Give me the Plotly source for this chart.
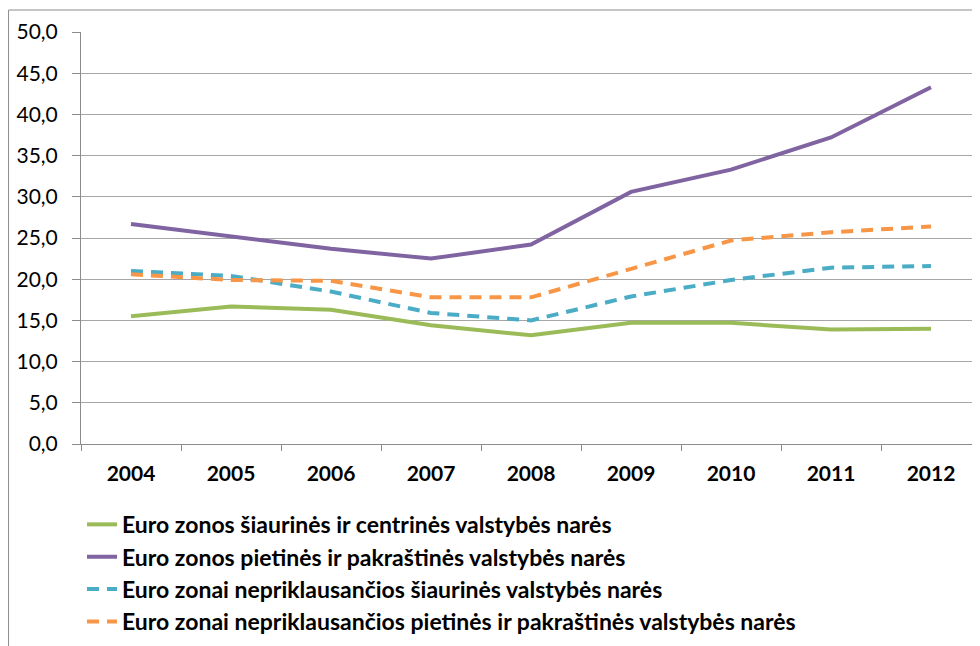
import plotly.graph_objects as go

# Metai
years = ["2004", "2005", "2006", "2007", "2008", "2009", "2010", "2011", "2012"]

# Serijos (nuskaityta nuo paveikslo)
euro_north = [15.5, 16.7, 16.3, 14.4, 13.2, 14.7, 14.7, 13.9, 14.0]
euro_south = [26.7, 25.2, 23.7, 22.5, 24.2, 30.6, 33.3, 37.2, 43.3]
non_euro_north = [21.0, 20.4, 18.5, 15.9, 15.0, 17.9, 19.9, 21.4, 21.6]
non_euro_south = [20.6, 19.9, 19.8, 17.8, 17.8, 21.2, 24.7, 25.7, 26.4]

names = [
    "Euro zonos šiaurinės ir centrinės valstybės narės",
    "Euro zonos pietinės ir pakraštinės valstybės narės",
    "Euro zonai nepriklausančios šiaurinės valstybės narės",
    "Euro zonai nepriklausančios pietinės ir pakraštinės valstybės narės",
]

y_ticks = [0, 5, 10, 15, 20, 25, 30, 35, 40, 45, 50]
y_tick_labels = ["0,0", "5,0", "10,0", "15,0", "20,0", "25,0", "30,0", "35,0", "40,0", "45,0", "50,0"]

FONT = "Lato, Open Sans, sans-serif"

fig = go.Figure()

series = [
    (euro_north, names[0], "#9BBB59", "solid"),
    (euro_south, names[1], "#8064A2", "solid"),
    (non_euro_north, names[2], "#4BACC6", "12px,8px"),
    (non_euro_south, names[3], "#F79646", "12px,8px"),
]

# one legend box per entry so the row spacing can follow the original
legend_ids = ["legend", "legend2", "legend3", "legend4"]
legend_y = [-0.143, -0.2215, -0.300, -0.3785]

for (values, name, color, dash), lid in zip(series, legend_ids):
    fig.add_trace(go.Scatter(
        x=years,
        y=values,
        mode="lines",
        name=name,
        legend=lid,
        line=dict(color=color, width=4, dash=dash),
    ))

legend_style = dict(
    x=0.0011, xanchor="left", yanchor="top",
    font=dict(size=23, family=FONT, color="black", weight="bold"),
    bgcolor="rgba(0,0,0,0)",
)
legends = {lid: dict(legend_style, y=ly) for lid, ly in zip(legend_ids, legend_y)}

# outer chart frame (page body adds 8px offset)
fig.add_shape(
    type="rect", xref="paper", yref="paper",
    x0=-0.0805, x1=1.1, y0=-0.7, y1=1.0534,
    line=dict(color="#8c8c8c", width=1), layer="below",
)

fig.update_layout(
    width=980,
    height=646,
    margin=dict(l=73, r=7, t=24, b=210),
    paper_bgcolor="white",
    plot_bgcolor="white",
    font=dict(family=FONT, color="black"),
    showlegend=True,
    **legends,
    xaxis=dict(
        type="category",
        range=[-0.5, 8.5],
        showgrid=False,
        showline=True,
        linecolor="#8c8c8c",
        linewidth=1,
        ticks="outside",
        tickson="boundaries",
        ticklen=6,
        tickcolor="#8c8c8c",
        tickfont=dict(size=21, family=FONT, color="black", weight="bold"),
        ticklabelstandoff=11,
    ),
    yaxis=dict(
        range=[0, 50],
        tickvals=y_ticks,
        ticktext=y_tick_labels,
        showgrid=True,
        gridcolor="#a6a6a6",
        gridwidth=1,
        showline=True,
        linecolor="#8c8c8c",
        linewidth=1,
        ticks="outside",
        ticklen=8,
        tickcolor="#8c8c8c",
        tickfont=dict(size=21, family=FONT, color="black"),
        ticklabelstandoff=10,
        zeroline=False,
    ),
)

fig.write_html("out.html")
